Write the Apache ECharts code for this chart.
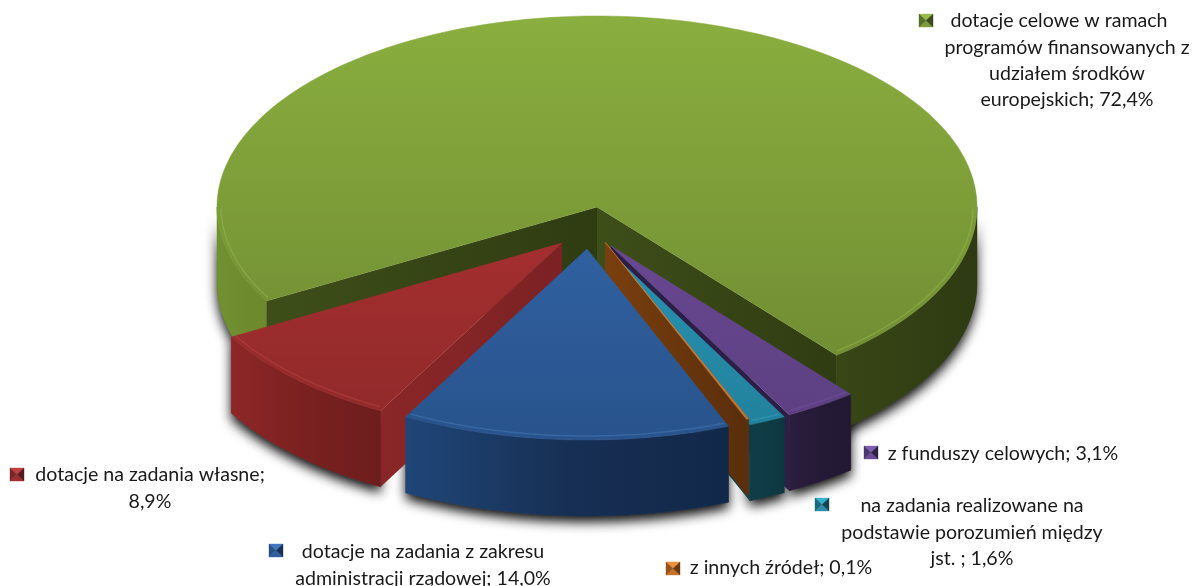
<!DOCTYPE html>
<html>
<head>
<meta charset="utf-8">
<title>Dotacje</title>
<script src="https://cdn.jsdelivr.net/npm/echarts@6/dist/echarts.min.js"></script>
<style>
  html, body { margin: 0; padding: 0; background: #fff; }
  #chart { width: 1195px; height: 586px; }
</style>
</head>
<body>
<div id="chart"></div>
<script>
// clockwise from the left cut of the big slice
var categories = [
  'dotacje celowe w ramach programów finansowanych z udziałem środków europejskich',
  'z funduszy celowych',
  'na zadania realizowane na podstawie porozumień między jst.',
  'z innych źródeł',
  'dotacje na zadania z zakresu administracji rządowej',
  'dotacje na zadania własne'
]
var values = [72.4, 3.1, 1.6, 0.1, 14.0, 8.9]
var labelLines = [
  ['dotacje celowe w ramach', 'programów finansowanych z', 'udziałem środków', 'europejskich; 72,4%'],
  ['z funduszy celowych; 3,1%'],
  ['na zadania realizowane na', 'podstawie porozumień między', 'jst. ; 1,6%'],
  ['z innych źródeł; 0,1%'],
  ['dotacje na zadania z zakresu', 'administracji rządowej; 14,0%'],
  ['dotacje na zadania własne;', '8,9%']
]

// pie layout
var cx = 597, cy = 207, rx = 380, ry = 191, depth = 76, startAngle = 150.5
var sliceShift = [[0, 0], [14, 39], [9, 41], [8, 35], [-10, 42], [-35, 36]]
var drawRank = [0, 2, 3, 4, 5, 1]
var LABEL_FONT = '19.6px Lato, "Noto Sans", sans-serif'

// label layout: line centre x, first line y, x correction of line 1, key corner
var labelPos = [
  { x: 1067, y: 21, dx: -8, key: [919, 14] },
  { x: 1003, y: 454, dx: 0, key: [864, 446] },
  { x: 972, y: 506, dx: 0, key: [815, 498] },
  { x: 781, y: 568, dx: 0, key: [666, 562] },
  { x: 423, y: 552, dx: 0, key: [269, 544] },
  { x: 150, y: 475, dx: 0, key: [10, 468] }
]

var palette = [
  { top: ['#8aae3f', '#6b8630'], edge: ['#3e4e19', '#2f3c12'], wall: ['#71902f', '#4a5d1d', '#2e3a12'], bevel: '#9dbf55', key: ['#98bb50', '#7d9c3b', '#566f28', '#3a4a18'] },
  { top: ['#7554a6', '#5c3e80'], edge: ['#2c1e47', '#2c1e47'], wall: ['#2a1d3e', '#251a36', '#221833'], bevel: '#7a5aa8', key: ['#7f5fb0', '#6a4c96', '#4a3570', '#2f2145'] },
  { top: ['#2ba9cb', '#22809b'], edge: ['#103f4b', '#103f4b'], wall: ['#0f3d47', '#0f3b45', '#0e3640'], bevel: '#35a9c8', key: ['#35b0d0', '#2a90ab', '#1b6a7c', '#124552'] },
  { top: ['#e58532', '#c46e26'], edge: ['#7a3f0e', '#5a2e0b'], wall: ['#5e300b', '#5e300b', '#5e300b'], bevel: '#e89a50', key: ['#f0903a', '#c97128', '#96531a', '#6a390f'] },
  { top: ['#3a70b8', '#28538c'], edge: ['#1b3c69', '#1b3c69'], wall: ['#1f4678', '#172f54', '#12284a'], bevel: '#4f84c4', key: ['#4078c0', '#2f5f9e', '#245084', '#16305a'] },
  { top: ['#bd3437', '#8e2929'], edge: ['#8a2628', '#7c2224'], wall: ['#8e2727', '#7a2020', '#6e1d1d'], bevel: '#c04a48', key: ['#c04042', '#9c2f30', '#7c2526', '#561a1a'] }
]

function ptOn(a, ox, oy, k) {
  var r = a * Math.PI / 180
  return [ox + (rx - k) * Math.cos(r), oy + (ry - k) * Math.sin(r)]
}

function arcPoints(a0, a1, ox, oy, k) {
  var pts = []
  var n = Math.max(2, Math.ceil(a1 - a0))
  for (var i = 0; i <= n; i++) pts.push(ptOn(a0 + (a1 - a0) * i / n, ox, oy, k))
  return pts
}

// slice angles come from the values
var angles = []
var total = values.reduce(function (s, v) { return s + v }, 0)
var run = startAngle
values.forEach(function (v) {
  angles.push([run, run + v / total * 360])
  run += v / total * 360
})

function grad(x, y, x2, y2, colors) {
  return {
    type: 'linear', global: true, x: x, y: y, x2: x2, y2: y2,
    colorStops: colors.map(function (c, i) {
      return { offset: colors.length === 1 ? 0 : i / (colors.length - 1), color: c }
    })
  }
}

// parts of a slice arc on the front half of the ellipse
function frontRanges(a0, a1) {
  var out = []
  ;[[0, 180], [360, 540]].forEach(function (w) {
    var s = Math.max(a0, w[0]), e = Math.min(a1, w[1])
    if (e > s) out.push([s, e])
  })
  return out
}

function wallPoints(range, ox, oy) {
  var upper = arcPoints(range[0], range[1], ox, oy, 0)
  var lower = upper.map(function (p) { return [p[0], p[1] + depth] }).reverse()
  return upper.concat(lower)
}

function renderShadow(params, api) {
  var i = api.value(0)
  var ox = cx + sliceShift[i][0], oy = cy + sliceShift[i][1]
  var children = []
  frontRanges(angles[i][0], angles[i][1]).forEach(function (range) {
    children.push({
      type: 'polygon',
      shape: { points: wallPoints(range, ox, oy) },
      style: { fill: '#555', shadowBlur: 12, shadowColor: 'rgba(0,0,0,0.95)', shadowOffsetY: 6 }
    })
  })
  return { type: 'group', children: children }
}

function renderSlice(params, api) {
  var i = api.value(0)
  var a0 = angles[i][0], a1 = angles[i][1], c = palette[i]
  var ox = cx + sliceShift[i][0], oy = cy + sliceShift[i][1]
  var z = drawRank[i] * 10
  var children = []

  // radial walls that face the viewer
  function radial(a, order) {
    var p = ptOn(a, ox, oy, 0)
    children.push({
      type: 'polygon', z2: z + order,
      shape: { points: [[ox, oy], p, [p[0], p[1] + depth], [ox, oy + depth]] },
      style: { fill: grad(Math.min(ox, p[0]), 0, Math.max(ox, p[0]), 0, c.edge) }
    })
  }
  if (Math.cos(a0 * Math.PI / 180) < 0) radial(a0, 1)
  if (Math.cos(a1 * Math.PI / 180) > 0) radial(a1, 1)

  // one gradient across all front parts of a slice
  var ranges = frontRanges(a0, a1)
  var xs = []
  ranges.forEach(function (range) {
    arcPoints(range[0], range[1], ox, oy, 0).forEach(function (p) { xs.push(p[0]) })
  })
  var wallFill = grad(Math.min.apply(null, xs), 0, Math.max.apply(null, xs), 0, c.wall)
  ranges.forEach(function (range) {
    children.push({
      type: 'polygon', z2: z + 2, shape: { points: wallPoints(range, ox, oy) },
      style: { fill: wallFill, stroke: wallFill, lineWidth: 0.5 }
    })
  })

  var top = [[ox, oy]].concat(arcPoints(a0, a1, ox, oy, 0))
  var topFill = grad(0, cy - ry, 0, cy + ry + 45, c.top)
  children.push({
    type: 'polygon', z2: z + 3, shape: { points: top },
    style: { fill: topFill, stroke: topFill, lineWidth: 0.5 }
  })

  // light bevel just inside the rim
  ranges.forEach(function (range) {
    if (range[1] - range[0] < 2) return
    children.push({
      type: 'polyline', z2: z + 4,
      shape: { points: arcPoints(range[0] + 0.5, range[1] - 0.5, ox, oy, 4) },
      style: { fill: null, stroke: c.bevel, lineWidth: 1.5, opacity: 0.4 }
    })
  })
  return { type: 'group', children: children }
}

function renderLabel(params, api) {
  var i = api.value(0)
  var pos = labelPos[i], k = palette[i].key
  var children = []
  labelLines[i].forEach(function (line, n) {
    children.push({
      type: 'text',
      style: {
        x: pos.x + (n === 0 ? pos.dx : 0), y: pos.y + n * 26.3,
        text: line, font: LABEL_FONT, fill: '#1a1a1a', align: 'center', verticalAlign: 'middle'
      }
    })
  })
  // legend key, a small bevelled square
  var x = pos.key[0], y = pos.key[1], w = 14, h = 13
  var mx = x + w / 2, my = y + h / 2
  var tris = [
    [[x, y], [x + w, y], [mx, my]],
    [[x, y + h], [x + w, y + h], [mx, my]],
    [[x, y], [x, y + h], [mx, my]],
    [[x + w, y], [x + w, y + h], [mx, my]]
  ]
  tris.forEach(function (t, n) {
    children.push({
      type: 'polygon', shape: { points: t },
      style: { fill: k[n], stroke: k[n], lineWidth: 0.4 }
    })
  })
  return { type: 'group', children: children }
}

var seriesData = categories.map(function (name, i) {
  return { name: name, value: [i, values[i]] }
})

var chart = echarts.init(document.getElementById('chart'))
chart.setOption({
  animation: false,
  backgroundColor: '#fff',
  series: [
    { type: 'custom', coordinateSystem: 'none', silent: true, z: 1, data: seriesData, renderItem: renderShadow },
    { type: 'custom', coordinateSystem: 'none', silent: true, z: 2, data: seriesData, renderItem: renderSlice },
    { type: 'custom', coordinateSystem: 'none', silent: true, z: 3, data: seriesData, renderItem: renderLabel }
  ]
})
</script>
</body>
</html>
